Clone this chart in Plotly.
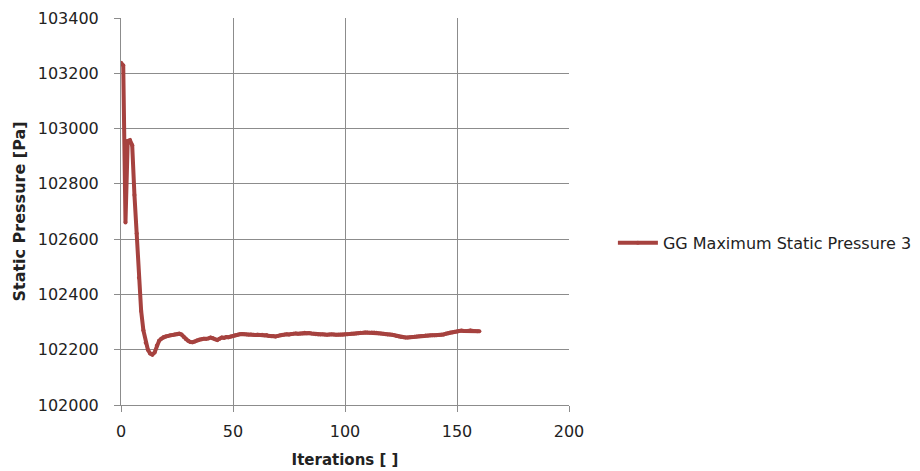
import plotly.graph_objects as go

iterations = list(range(0, 161))
pressure = [
    103238, 103228, 102660, 102955, 102958, 102940, 102760, 102620, 102460, 102340,
    102270, 102225, 102200, 102186, 102182, 102190, 102215, 102232, 102240, 102246,
    102248, 102250, 102252, 102253, 102255, 102256, 102258, 102255, 102246, 102238,
    102232, 102228, 102227, 102230, 102234, 102237, 102238, 102240, 102239, 102241,
    102244, 102242, 102238, 102235, 102240, 102244, 102243, 102246, 102245, 102248,
    102250, 102252, 102254, 102256, 102257, 102256, 102255, 102254, 102255, 102254,
    102253, 102254, 102253, 102254, 102252, 102253, 102250, 102249, 102250, 102248,
    102250, 102252, 102254, 102255, 102256, 102255, 102257, 102258, 102259, 102258,
    102259, 102260, 102261, 102260, 102260, 102259, 102258, 102256, 102255, 102255,
    102256, 102255, 102254, 102255, 102256, 102255, 102254, 102254, 102254, 102254,
    102255, 102256, 102257, 102258, 102258, 102259, 102260, 102261, 102261, 102262,
    102262, 102261, 102262, 102262, 102261, 102260, 102259, 102258, 102256, 102255,
    102255, 102254, 102252, 102250, 102248, 102246, 102245, 102244, 102244, 102245,
    102246, 102247, 102248, 102249, 102250, 102250, 102251, 102251, 102252, 102252,
    102252, 102252, 102253, 102254, 102255, 102258, 102260, 102262, 102263, 102265,
    102266, 102268, 102269, 102268, 102268, 102269, 102270, 102269, 102268, 102267, 102267,
]
series_name = "GG Maximum Static Pressure 3"
x_ticks = [0, 50, 100, 150, 200]
y_ticks = [102000, 102200, 102400, 102600, 102800, 103000, 103200, 103400]

color = "#A6423F"
grid = "#8C8C8C"
font = "DejaVu Sans"

fig = go.Figure()
fig.add_trace(go.Scatter(
    x=iterations, y=pressure, name=series_name, mode="lines+markers",
    line=dict(color=color, width=4), marker=dict(color=color, size=4),
))

fig.update_layout(
    width=920, height=471,
    margin=dict(l=121, r=351, t=18, b=66, autoexpand=False),
    paper_bgcolor="white", plot_bgcolor="white",
    font=dict(family=font, size=16, color="#222222"),
    showlegend=True,
    legend=dict(x=1.098, y=0.419, xanchor="left", yanchor="middle",
                font=dict(family=font, size=16, color="#222222"),
                itemwidth=40, bgcolor="rgba(0,0,0,0)"),
    xaxis=dict(range=[0, 200], tickvals=x_ticks, ticktext=[str(v) for v in x_ticks],
               showgrid=True, gridcolor=grid, gridwidth=1, automargin=False,
               showline=True, linecolor=grid, linewidth=1, ticks="outside", ticklen=6,
               tickcolor=grid, zeroline=False, ticklabelstandoff=6,
               title=dict(text="<b>Iterations [ ]</b>", font=dict(family=font, size=15), standoff=14),
               tickfont=dict(family=font, size=16)),
    yaxis=dict(range=[102000, 103400], tickvals=y_ticks, ticktext=[str(v) for v in y_ticks],
               showgrid=True, gridcolor=grid, gridwidth=1, automargin=False,
               showline=True, linecolor=grid, linewidth=1, ticks="outside", ticklen=6,
               tickcolor=grid, zeroline=False, ticklabelstandoff=12,
               title=dict(text="<b>Static Pressure [Pa]</b>", font=dict(family=font, size=16), standoff=8),
               tickfont=dict(family=font, size=16)),
)

fig.write_html("out.html")
